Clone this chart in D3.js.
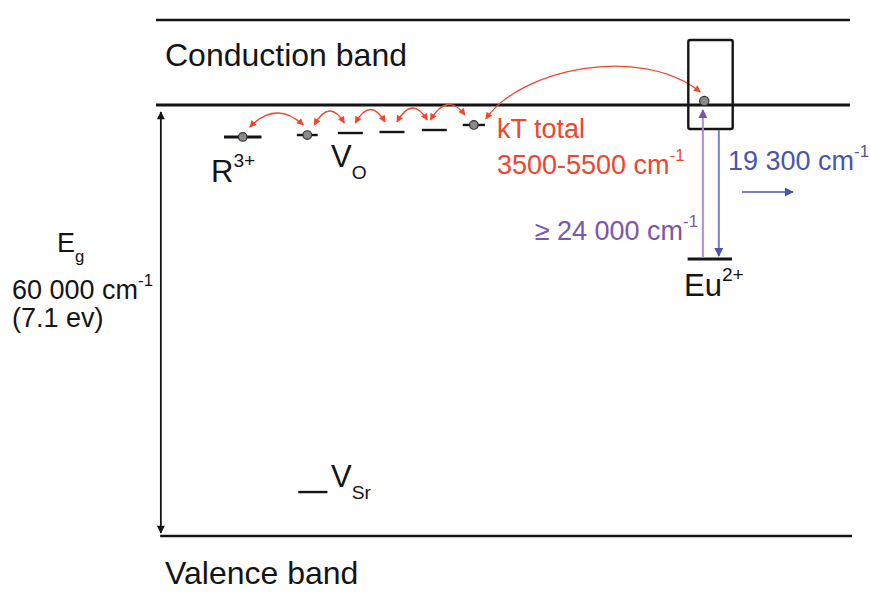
<!DOCTYPE html>
<html>
<head>
<meta charset="utf-8">
<script src="https://cdn.jsdelivr.net/npm/d3@7"></script>
<style>
  html, body { margin: 0; padding: 0; background: #fff; }
  svg { display: block; font-family: "Liberation Sans", Arial, Helvetica, sans-serif; }
</style>
</head>
<body>
<svg id="chart" width="870" height="605"></svg>
<script>
// ---- Energy values (cm^-1, measured from the top of the valence band) ----
const bandGap = 60000;            // E_g
const bandGapEv = 7.1;
const conductionTop = 71830;      // upper edge of the drawn conduction band
// Shallow traps below the conduction band: depth in cm^-1
const trapNames    = ["R3+", "VO", "", "", "", ""];
const trapDepths   = [4450, 4180, 3900, 3760, 3480, 2780];
const trapOccupied = [true, true, false, false, false, true];
const kTRange = [3500, 5500];     // total thermal depth of the traps
// Eu2+ centre
const euGround = 38560;
const euExcitedTop = 69050;
const euExcitedBottom = 56660;
const euElectron = 60560;
const euExcitation = 24000;       // absorption, >= value
const euEmission = 19300;         // emission
// Deep strontium vacancy
const vSrLevel = 6120;

// ---- Horizontal layout (0..100 across the band lines) ----
const trapSites  = [12.5, 21.8, 28.0, 34.0, 40.1, 45.8];
const trapHalf   = [2.7, 1.5, 1.8, 1.8, 1.8, 1.6];
const euSite = 79.8, euHalf = 3.2;
const euBox = [76.7, 83.1];
const euElectronSite = 79.0;
const excitationSite = 78.8, emissionSite = 81.1;
const vSrSite = 22.6, vSrHalf = 2.1;
const gapArrowSite = 0.7;

const svg = d3.select("#chart");
const x = d3.scaleLinear().domain([0, 100]).range([156, 850]);
const y = d3.scaleLinear().domain([0, bandGap]).range([536, 105]);

const RED = "#ef4630", PURPLE = "#7c55ad", PURPLE_L = "#a990d6",
      BLUE = "#4657ad", BLUE_L = "#6f82d2", INK = "#141414";

const spaced = v => d3.format(",")(v).replace(",", " ");

// ---- Arrowhead markers ----
const defs = svg.append("defs");
function marker(id, color, w, h) {
  defs.append("marker")
    .attr("id", id).attr("viewBox", "0 0 10 10")
    .attr("refX", 9).attr("refY", 5)
    .attr("markerUnits", "userSpaceOnUse")
    .attr("markerWidth", w).attr("markerHeight", h)
    .attr("orient", "auto-start-reverse")
    .append("path").attr("d", "M0,0 L10,5 L0,10 Z").attr("fill", color);
}
marker("ah-red", RED, 8, 7);
marker("ah-ink", INK, 10, 8);
marker("ah-purple", PURPLE, 10, 9);
marker("ah-blue", BLUE, 10, 9);

// ---- Band edges ----
svg.append("line").attr("x1", x(0)).attr("x2", x(100))
  .attr("y1", y(conductionTop)).attr("y2", y(conductionTop))
  .attr("stroke", INK).attr("stroke-width", 2.4);
svg.append("line").attr("x1", x(0)).attr("x2", x(100))
  .attr("y1", y(bandGap)).attr("y2", y(bandGap))
  .attr("stroke", INK).attr("stroke-width", 2.8);
svg.append("line").attr("x1", x(0.6)).attr("x2", x(100.3))
  .attr("y1", y(0)).attr("y2", y(0))
  .attr("stroke", INK).attr("stroke-width", 2.6);

// ---- Band gap arrow ----
svg.append("line")
  .attr("x1", x(gapArrowSite)).attr("x2", x(gapArrowSite))
  .attr("y1", y(bandGap) + 7).attr("y2", y(0) - 3)
  .attr("stroke", INK).attr("stroke-width", 1.8)
  .attr("marker-start", "url(#ah-ink)").attr("marker-end", "url(#ah-ink)");

// ---- Text helper with sub/superscripts ----
function label(px, py, parts, size, color, anchor) {
  const t = svg.append("text").attr("x", px).attr("y", py)
    .attr("font-size", size).attr("fill", color || INK)
    .attr("text-anchor", anchor || "start");
  parts.forEach(p => {
    const s = t.append("tspan").text(p.t);
    if (p.sup) s.attr("font-size", size * 0.62).attr("dy", -size * 0.5);
    if (p.sub) s.attr("font-size", size * 0.62).attr("dy", size * 0.38);
  });
  return t;
}

label(165, 66, [{ t: "Conduction band" }], 32);
label(165, 584, [{ t: "Valence band" }], 32);

// Band gap annotation
label(57, 252, [{ t: "E" }, { t: "g", sub: true }], 27);
label(12, 299, [{ t: spaced(bandGap) + " cm" }, { t: "-1", sup: true }], 27);
label(12, 327, [{ t: "(" + bandGapEv + " ev)" }], 27);

// ---- Trap levels ----
const traps = trapDepths.map((d, i) => ({
  name: trapNames[i], e: bandGap - d, cx: trapSites[i], half: trapHalf[i], occ: trapOccupied[i]
}));
svg.selectAll(".trap").data(traps).join("line")
  .attr("class", "trap")
  .attr("x1", d => x(d.cx - d.half)).attr("x2", d => x(d.cx + d.half))
  .attr("y1", d => y(d.e)).attr("y2", d => y(d.e))
  .attr("stroke", INK).attr("stroke-width", (d, i) => i === 0 ? 3 : 2.4);
svg.selectAll(".electron").data(traps.filter(d => d.occ)).join("circle")
  .attr("class", "electron")
  .attr("cx", d => x(d.cx)).attr("cy", d => y(d.e))
  .attr("r", 4.3).attr("fill", "#8a8a8a").attr("stroke", "#333").attr("stroke-width", 1.2);

label(211, 182, [{ t: "R" }, { t: "3+", sup: true }], 31);
label(331, 167, [{ t: "V" }, { t: "O", sub: true }], 31);

// Thermal hops between neighbouring traps
const hopEnds = [[0, 1], [1, 2], [2, 3], [3, 4], [4, 5]];
const hopOffsets = [[7, -4], [7, -6], [5, -7], [5, -7], [-4, -9]];
hopEnds.forEach(([a, b], i) => {
  const A = traps[a], B = traps[b];
  const x0 = x(A.cx) + hopOffsets[i][0], x1 = x(B.cx) + hopOffsets[i][1];
  const y0 = y(A.e) - 10, y1 = y(B.e) - 10;
  const p = d3.path();
  p.moveTo(x0, y0);
  p.quadraticCurveTo((x0 + x1) / 2, (y0 + y1) / 2 - 26, x1, y1);
  svg.append("path").attr("d", p.toString())
    .attr("fill", "none").attr("stroke", RED).attr("stroke-width", 1.4)
    .attr("marker-start", "url(#ah-red)").attr("marker-end", "url(#ah-red)");
});

// Long hop from the shallowest trap into the Eu2+ excited state
{
  const A = traps[5];
  const x0 = x(A.cx) + 12, y0 = y(A.e) - 6;
  const x1 = x(euElectronSite) - 4, y1 = y(euElectron) - 9;
  const p = d3.path();
  p.moveTo(x0, y0);
  p.bezierCurveTo(x0 + 34, y0 - 50, x1 - 60, y1 - 48, x1, y1);
  svg.append("path").attr("d", p.toString())
    .attr("fill", "none").attr("stroke", RED).attr("stroke-width", 1.3)
    .attr("marker-start", "url(#ah-red)").attr("marker-end", "url(#ah-red)");
}
label(497, 138, [{ t: "kT total" }], 27, RED);
label(497, 174, [{ t: kTRange[0] + "-" + kTRange[1] + " cm" }, { t: "-1", sup: true }], 27, RED);

// ---- Eu2+ centre ----
svg.append("rect")
  .attr("x", x(euBox[0])).attr("y", y(euExcitedTop))
  .attr("width", x(euBox[1]) - x(euBox[0]))
  .attr("height", y(euExcitedBottom) - y(euExcitedTop))
  .attr("rx", 2).attr("fill", "none").attr("stroke", INK).attr("stroke-width", 2.4);
svg.append("line")
  .attr("x1", x(euSite - euHalf)).attr("x2", x(euSite + euHalf))
  .attr("y1", y(euGround)).attr("y2", y(euGround))
  .attr("stroke", INK).attr("stroke-width", 3.2);

// Excitation (up) and emission (down)
svg.append("line")
  .attr("x1", x(excitationSite)).attr("x2", x(excitationSite))
  .attr("y1", y(euGround) - 1).attr("y2", y(euElectron) + 9)
  .attr("stroke", PURPLE_L).attr("stroke-width", 2)
  .attr("marker-end", "url(#ah-purple)");
svg.append("line")
  .attr("x1", x(emissionSite)).attr("x2", x(emissionSite))
  .attr("y1", y(euExcitedBottom) + 1).attr("y2", y(euGround) - 3)
  .attr("stroke", BLUE_L).attr("stroke-width", 2)
  .attr("marker-end", "url(#ah-blue)");

svg.append("circle")
  .attr("cx", x(euElectronSite)).attr("cy", y(euElectron))
  .attr("r", 4.6).attr("fill", "#8a8a8a").attr("stroke", "#333").attr("stroke-width", 1.2);

label(698, 240, [{ t: "\u2265 " + spaced(euExcitation) + " cm" }, { t: "-1", sup: true }], 27, PURPLE, "end");
label(728, 170, [{ t: spaced(euEmission) + " cm" }, { t: "-1", sup: true }], 27, BLUE);
svg.append("line")
  .attr("x1", 742).attr("x2", 793).attr("y1", 192).attr("y2", 192)
  .attr("stroke", BLUE).attr("stroke-width", 1.6)
  .attr("marker-end", "url(#ah-blue)");
label(684, 296, [{ t: "Eu" }, { t: "2+", sup: true }], 31);

// ---- Strontium vacancy ----
svg.append("line")
  .attr("x1", x(vSrSite - vSrHalf)).attr("x2", x(vSrSite + vSrHalf))
  .attr("y1", y(vSrLevel)).attr("y2", y(vSrLevel))
  .attr("stroke", INK).attr("stroke-width", 2.4);
label(331, 487, [{ t: "V" }, { t: "Sr", sub: true }], 31);
</script>
</body>
</html>
